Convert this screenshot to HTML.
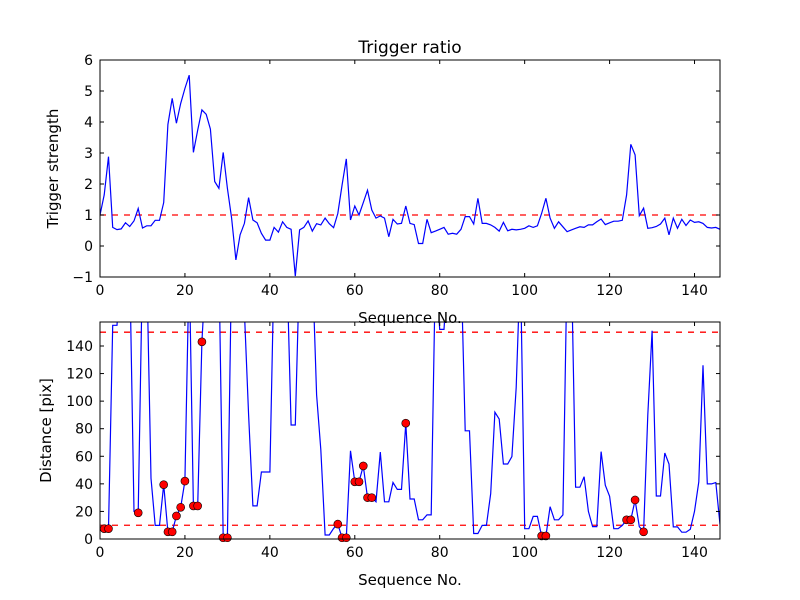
<!DOCTYPE html>
<html><head><meta charset="utf-8"><style>
body{margin:0;background:#fff;}
svg{display:block;font-family:"DejaVu Sans","Liberation Sans",sans-serif;}
</style></head><body>
<svg id="c" width="800" height="600" viewBox="0 0 800 600">
<rect width="800" height="600" fill="#fff"/>
<defs>
<clipPath id="clipTop"><rect x="100" y="60" width="620" height="217"/></clipPath>
<clipPath id="clipBot"><rect x="100" y="322" width="620" height="217"/></clipPath>
</defs>
<text x="410" y="53" font-size="17" text-anchor="middle">Trigger ratio</text>
</svg>
<script>
const triggerValues=[1.0,1.65,2.88,0.6,0.53,0.55,0.75,0.63,0.81,1.21,0.58,0.65,0.65,0.83,0.83,1.4,3.92,4.76,3.96,4.6,5.08,5.51,3.02,3.74,4.39,4.25,3.77,2.08,1.86,3.02,1.86,0.9,-0.45,0.36,0.73,1.56,0.84,0.75,0.41,0.19,0.19,0.6,0.45,0.78,0.6,0.54,-0.97,0.52,0.6,0.81,0.48,0.72,0.68,0.9,0.72,0.59,1.05,1.97,2.81,0.84,1.29,1.0,1.4,1.8,1.16,0.9,0.97,0.9,0.3,0.86,0.71,0.73,1.29,0.73,0.69,0.08,0.08,0.86,0.43,0.48,0.54,0.6,0.38,0.41,0.38,0.54,0.95,0.95,0.71,1.54,0.73,0.73,0.68,0.6,0.48,0.76,0.49,0.54,0.52,0.54,0.57,0.65,0.6,0.65,1.05,1.54,0.9,0.57,0.78,0.62,0.46,0.52,0.57,0.62,0.6,0.68,0.68,0.78,0.87,0.69,0.75,0.8,0.8,0.83,1.65,3.28,2.94,0.98,1.22,0.57,0.59,0.63,0.71,0.9,0.36,0.9,0.57,0.86,0.66,0.84,0.76,0.78,0.73,0.6,0.58,0.6,0.54];
const distanceValues=[7.5,7.5,7.5,155,155,200,200,200,20,19,200,200,44,9.9,9.9,39.4,5.2,5.2,16.7,23,42,200,24,24,143,200,200,200,200,0.9,0.9,200,200,200,165,90,24,24,48.6,48.6,48.6,200,200,200,200,82.7,82.7,200,200,200,200,104.5,65,2.9,2.9,7.7,10.8,0.9,0.9,64,41.5,41.5,53,30,30,27,63,27,27,41,36,36,84,29,29,13.9,13.9,17.5,17.5,200,152,152,200,200,200,200,78.5,78.5,4,4,9.9,9.9,32.9,92,87,54.4,54.4,59.8,110,200,7.5,7.5,16.4,16.4,2.2,2.2,23.4,13.9,13.9,17.5,200,200,37.6,37.6,45.2,20,9,9,63.4,39,31,7.5,7.5,9.9,13.9,13.9,28.3,9,5.2,90,151,31.2,31.2,62.4,54.4,8.8,8.8,4.9,4.9,7,20,41.5,126,40,40,41,10.6];
const markerIdx=[1,2,9,15,16,17,18,19,20,22,23,24,29,30,56,57,58,60,61,62,63,64,72,104,105,124,125,126,128];
const xTicks=[0,20,40,60,80,100,120,140];
const topYTicks=[-1,0,1,2,3,4,5,6];
const botYTicks=[0,20,40,60,80,100,120,140];
const triggerThreshold=[1];
const distThresholds=[10,150];

const NS='http://www.w3.org/2000/svg';
const svg=document.getElementById('c');
function mk(tag,attrs,parent){const e=document.createElementNS(NS,tag);for(const k in attrs)e.setAttribute(k,attrs[k]);(parent||svg).appendChild(e);return e;}
const X0=100,X1=720,XMAX=146;
const xs=v=>X0+v/XMAX*(X1-X0);
function axes(yTop,yBot,ymin,ymax,yticks,ylabel,prefix,clip,series,thresholds,withMarkers){
  const ys=v=>yBot-(v-ymin)/(ymax-ymin)*(yBot-yTop);
  const g=mk('g',{});
  
  
  const lg=mk('g',{'clip-path':'url(#'+clip+')'},g);
  thresholds.forEach(t=>{const l=mk('line',{x1:X0,x2:X1,y1:ys(t),y2:ys(t),stroke:'#ff0000','stroke-width':1.3,'stroke-dasharray':'6,6'},lg);
    
    });
  const pts=series.map((v,i)=>xs(i).toFixed(1)+','+ys(v).toFixed(1)).join(' ');
  const pl=mk('polyline',{points:pts,fill:'none',stroke:'#0000ff','stroke-width':1.2},lg);
  
  
  if(withMarkers){markerIdx.forEach(i=>{const c=mk('circle',{cx:xs(i),cy:ys(series[i]),r:4,fill:'#ff0000',stroke:'#000','stroke-width':0.6},g);
    
    });}
  const fr=mk('rect',{x:X0,y:yTop,width:X1-X0,height:yBot-yTop,fill:'none',stroke:'#000','stroke-width':1},g);
  
  
  xTicks.forEach(t=>{const x=xs(t);
    mk('line',{x1:x,x2:x,y1:yBot,y2:yBot-4,stroke:'#000'},g);mk('line',{x1:x,x2:x,y1:yTop,y2:yTop+4,stroke:'#000'},g);
    const tx=mk('text',{x:x,y:yBot+18,'font-size':14,'text-anchor':'middle'},g);tx.textContent=t;
    
    });
  yticks.forEach(t=>{const y=ys(t);
    mk('line',{x1:X0,x2:X0+4,y1:y,y2:y,stroke:'#000'},g);mk('line',{x1:X1,x2:X1-4,y1:y,y2:y,stroke:'#000'},g);
    const tx=mk('text',{x:X0-7,y:y+5,'font-size':14,'text-anchor':'end'},g);tx.textContent=(t<0?'\u2212'+(-t):t);
    
    });
  const xl=mk('text',{x:410,y:yBot+46,'font-size':15,'text-anchor':'middle'},g);xl.textContent='Sequence No.';
  
  
  const cy=(yTop+yBot)/2;
  const yl=mk('text',{x:0,y:0,'font-size':15,'text-anchor':'middle',transform:'translate('+(prefix==='trigger'?58:51)+','+cy+') rotate(-90)'},g);yl.textContent=ylabel;
  
  
}
axes(60,277,-1,6,topYTicks,'Trigger strength','trigger','clipTop',triggerValues,triggerThreshold,false);
axes(322,539,0,157.4,botYTicks,'Distance [pix]','distance','clipBot',distanceValues,distThresholds,true);
</script>
</body></html>
